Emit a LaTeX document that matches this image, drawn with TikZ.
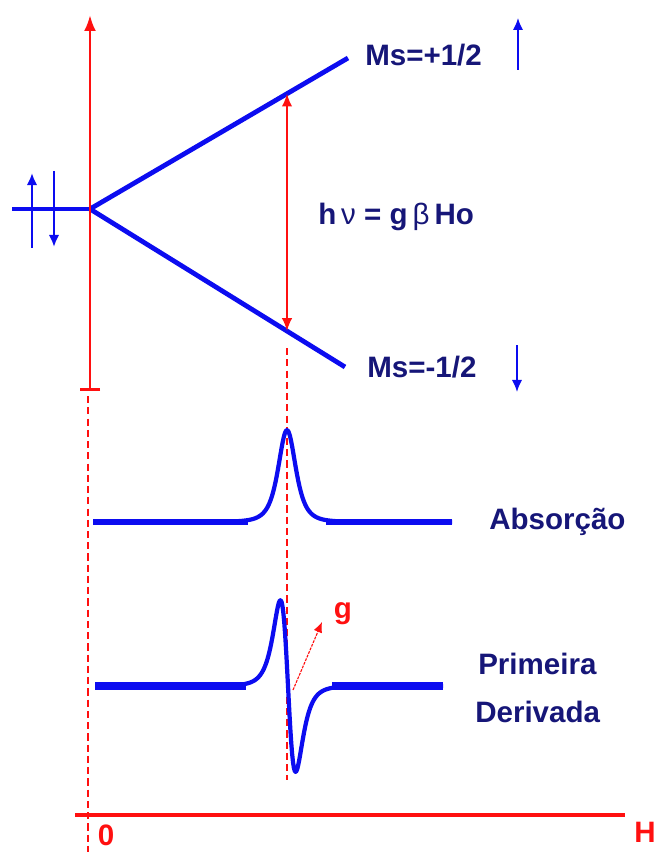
\documentclass[tikz,border=0pt]{standalone}
\usepackage{fontspec}
\setmainfont{Liberation Sans}
\usepackage{xcolor}
\usetikzlibrary{arrows.meta}
\definecolor{eprblue}{RGB}{12,12,240}
\definecolor{eprred}{RGB}{255,16,16}
\definecolor{eprnavy}{RGB}{22,22,120}
\tikzset{
  levelline/.style={
    draw=eprblue,
    line width=3.4pt
  },
  curveline/.style={
    draw=eprblue,
    line width=3pt,
    line join=round
  },
  baseline/.style={
    draw=eprblue,
    line width=4.6pt
  },
  spinarrow/.style={
    -{Latex[length=3mm,width=2.6mm]},
    draw=eprblue,
    line width=1.6pt
  },
  axisline/.style={
    draw=eprred,
    line width=2pt
  },
  guideline/.style={
    draw=eprred,
    line width=0.8pt,
    dash pattern=on 5pt off 3pt
  },
  gaparrow/.style={
    {Latex[length=3.2mm,width=2.6mm]}-{Latex[length=3.2mm,width=2.6mm]},
    draw=eprred,
    line width=1.2pt
  },
  labeltext/.style={
    text=eprnavy,
    font=\fontsize{21}{25}\selectfont\bfseries,
    inner sep=0pt
  },
  axistext/.style={
    text=eprred,
    font=\fontsize{21}{25}\selectfont\bfseries,
    inner sep=0pt
  }
}

\begin{document}
\begin{tikzpicture}[x=0.025cm, y=-0.025cm,
  declare function={lor(\u)=1/(1+\u*\u); dlor(\u)=4*\u*lor(\u)*lor(\u)*lor(\u);}]
\useasboundingbox (0,0) rectangle (657,852);

% energy levels
\coordinate (origin) at (90,209);
\coordinate (levelin) at (12,209);
\coordinate (upend) at (348,58);
\coordinate (downend) at (345,367);
\coordinate (upres) at (287,93.7);
\coordinate (downres) at (287,331);

\draw[levelline] (levelin) -- (origin);
\draw[levelline] (origin) -- (upend);
\draw[levelline] (origin) -- (downend);

% vertical axis
\coordinate (vaxbot) at (90,391);
\coordinate (vaxtop) at (90,15);
\draw[axisline, {Bar[width=5mm]}-{Latex[length=4mm,width=3mm]}] (vaxbot) -- (vaxtop);

% spins on the left
\coordinate (spinupa) at (32,248);
\coordinate (spinupb) at (32,173);
\coordinate (spindna) at (54,171);
\coordinate (spindnb) at (54,247);
\draw[spinarrow] (spinupa) -- (spinupb);
\draw[spinarrow] (spindna) -- (spindnb);

% resonance
\draw[gaparrow] (downres) -- (upres);
\node[labeltext, anchor=west] (reson) at (318,217)
  {h\,{\mdseries ν} = g\,{\mdseries β}\,Ho};

% level labels
\node[labeltext, anchor=west] (msup) at (365,55) {Ms=+1/2};
\node[labeltext, anchor=west] (msdown) at (367,367) {Ms=-1/2};
\coordinate (rupa) at (518,70);
\coordinate (rupb) at (518,18);
\coordinate (rdna) at (517,345);
\coordinate (rdnb) at (517,392);
\draw[spinarrow, line width=1.3pt] (rupa) -- (rupb);
\draw[spinarrow, line width=1.3pt] (rdna) -- (rdnb);

% guide lines
\coordinate (zerotop) at (88,396);
\coordinate (zerobot) at (88,852);
\coordinate (restop) at (287,348);
\coordinate (resbot) at (287,780);
\draw[guideline] (zerotop) -- (zerobot);
\draw[guideline] (restop) -- (resbot);

% absorption
\draw[baseline] (93,522) -- (248,522) (326,522) -- (452,522);
\draw[curveline] plot[domain=93:452, samples=300]
  (\x, {522-92*lor((\x-287)/16)*lor((\x-287)/16)});
\node[labeltext, anchor=west] (absorb) at (489,522) {Absorção};

% first derivative
\draw[baseline, line width=5.4pt] (95,686) -- (246,686) (332,686) -- (443,686);
\draw[curveline] plot[domain=95:443, samples=400]
  (\x, {686+83*dlor((\x-288)/17)});
\node[labeltext, anchor=west] (prim) at (478,664) {Primeira};
\node[labeltext, anchor=west] (deriv) at (475,712) {Derivada};

% g marker
\coordinate (gfoot) at (293,690);
\coordinate (gtip) at (322,622);
\node[axistext] (gval) at (343,614) {g};
\draw[-{Latex[length=2.6mm,width=2.2mm]}, draw=eprred, line width=0.8pt, dash pattern=on 2pt off 0.8pt] (gfoot) -- (gtip);

% field axis
\coordinate (haxl) at (75,815);
\coordinate (haxr) at (625,815);
\draw[axisline, line width=3.4pt] (haxl) -- (haxr);
\node[axistext] (zero) at (106,835) {0};
\node[axistext] (hlab) at (645,832) {H};
\end{tikzpicture}
\end{document}
